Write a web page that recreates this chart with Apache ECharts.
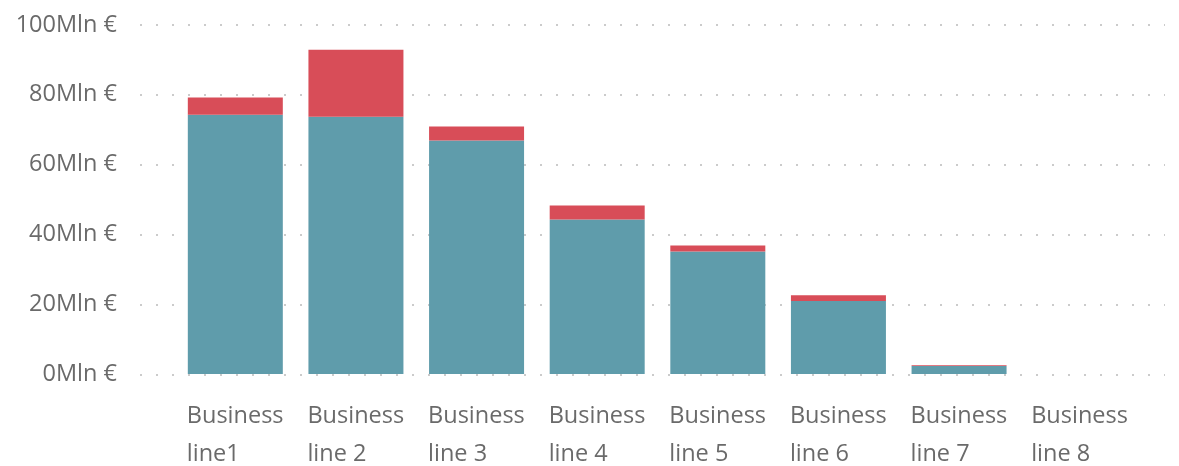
<!DOCTYPE html>
<html><head><meta charset="utf-8">
<script src="https://cdn.jsdelivr.net/npm/echarts@6/dist/echarts.min.js"></script>
<style>html,body{margin:0;padding:0;background:#fff}#c{width:1179px;height:466px}</style>
</head><body><div id="c"></div>
<script>
const categories = ["Business\nline1","Business\nline 2","Business\nline 3","Business\nline 4","Business\nline 5","Business\nline 6","Business\nline 7","Business\nline 8"];
const baseValues = [74.3, 73.7, 66.9, 44.3, 35.1, 20.9, 2.3, 0];
const extraValues = [4.9, 19.2, 4.0, 4.0, 1.7, 1.7, 0.2, 0];
const yTicks = [0, 20, 40, 60, 80, 100];

const chart = echarts.init(document.getElementById('c'));
const font = '"Open Sans", sans-serif';
const yMin = yTicks[0], yMax = yTicks[yTicks.length-1];
chart.setOption({
  animation: false,
  grid: [
    {left: 175, right: 39, top: 25, bottom: 91},
    {left: 140, right: 14, top: 25, bottom: 91}
  ],
  xAxis: [{
    type: 'category', data: categories, gridIndex: 0,
    axisLine: {show: false}, axisTick: {show: false},
    axisLabel: {
      margin: 23, align: 'center',
      formatter: v => v.split('\n').map(s => '{a|' + s + '}').join('\n'),
      rich: {a: {width: 97, align: 'left', fontSize: 23.5, lineHeight: 38, color: '#6a6a6a', fontFamily: font}}
    }
  }, {
    type: 'value', gridIndex: 1, show: false
  }],
  yAxis: [{
    type: 'value', min: yMin, max: yMax, interval: 20, gridIndex: 0,
    axisLine: {show: false}, axisTick: {show: false},
    axisLabel: {formatter: v => v + 'Mln €', fontSize: 23.5, color: '#6a6a6a', fontFamily: font, margin: 58},
    splitLine: {show: false}
  }, {
    type: 'value', min: yMin, max: yMax, interval: 20, gridIndex: 1,
    axisLine: {show: false}, axisTick: {show: false}, axisLabel: {show: false},
    splitLine: {lineStyle: {type: [2, 14], color: '#bbb', width: 1.5}}
  }],
  series: [
    {type: 'bar', stack: 's', data: baseValues, barWidth: 95, itemStyle: {color: '#5f9cab'}, z: 3},
    {type: 'bar', stack: 's', data: extraValues, barWidth: 95, itemStyle: {color: '#d84d58'}, z: 3}
  ]
});
</script></body></html>
